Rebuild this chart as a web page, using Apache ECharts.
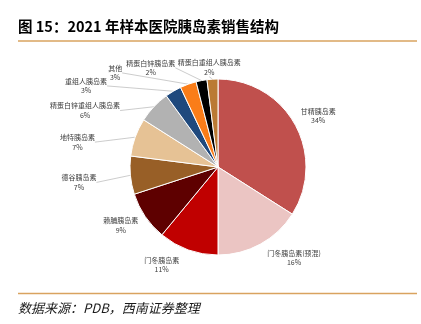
<!DOCTYPE html>
<html>
<head>
<meta charset="utf-8">
<script src="https://cdn.jsdelivr.net/npm/echarts@6/dist/echarts.min.js"></script>
<style>
html,body{margin:0;padding:0;background:#fff;}
#c{width:421px;height:324px;}
</style>
</head>
<body>
<div id="c"></div>
<script>
// ---- data ----
const categories = ['甘精胰岛素','门冬胰岛素(预混)','门冬胰岛素','赖脯胰岛素','德谷胰岛素','地特胰岛素','精蛋白锌重组人胰岛素','重组人胰岛素','其他','精蛋白锌胰岛素','精蛋白重组人胰岛素'];
const shares = [34,16,11,9,7,7,6,3,3,2,2];

// ---- style ----
const palette = ['#C0504D','#EBC5C3','#C00000','#5E0000','#985F27','#E6C295','#B2B2B2','#1F497D','#FA7D19','#000000','#BA7A34'];
const hideLine = [true,true,true,true,false,false,false,false,false,false,false];
const labelNudge = [[-10,-3],[-4,3],[0,4],[8,2],[-17,6],[-24,9],[-20,12],[-55,5],[-57,0],[-19,-1],[34,0]];
const FONT = '"Noto Sans CJK SC","Noto Sans",sans-serif';

const chart = echarts.init(document.getElementById('c'), null, {renderer:'canvas'});
chart.setOption({
  backgroundColor:'#fff',
  animation:false,
  color: palette,
  title:{
    text:'图 15：2021 年样本医院胰岛素销售结构',
    left:18, top:19, padding:0,
    textStyle:{fontSize:14.5,fontWeight:'bold',color:'#000',fontFamily:FONT}
  },
  graphic:[
    {type:'line',shape:{x1:18,y1:41,x2:417,y2:41},style:{stroke:'#D9A35F',lineWidth:1.5}},
    {type:'line',shape:{x1:18,y1:293.5,x2:417,y2:293.5},style:{stroke:'#D9A35F',lineWidth:1.5}},
    {type:'text',left:18,top:302,style:{text:'数据来源：PDB，西南证券整理',font:'italic 13px '+FONT,fill:'#1a1a1a'}}
  ],
  series:[{
    type:'pie',
    center:[218,167],
    radius:88,
    startAngle:90,
    clockwise:true,
    avoidLabelOverlap:false,
    itemStyle:{borderColor:'#fff',borderWidth:1},
    label:{
      show:true,position:'outside',formatter:'{b}\n{d}%',
      fontSize:7,lineHeight:9.5,color:'#404040',fontFamily:FONT
    },
    labelLine:{show:true,length:12,length2:0,lineStyle:{color:'#BFBFBF',width:0.8}},
    emphasis:{disabled:true},
    labelLayout:function(p){
      const n = labelNudge[p.dataIndex];
      const r = p.labelRect;
      return {x:r.x + r.width/2 + n[0], y:r.y + r.height/2 + n[1], align:'center', verticalAlign:'middle'};
    },
    data: categories.map((name,i)=>({
      name:name, value:shares[i],
      labelLine:{show:!hideLine[i]}
    }))
  }]
});
</script>
</body>
</html>
